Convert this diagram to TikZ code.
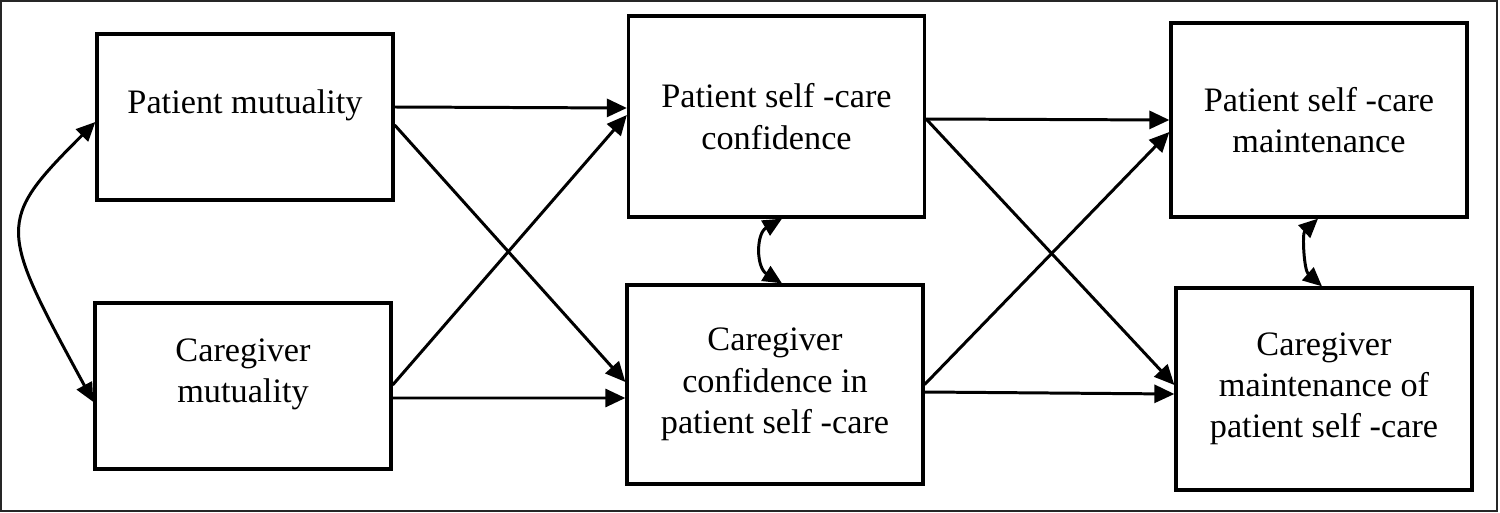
\documentclass[tikz,border=0pt]{standalone}
\usepackage{fontspec}
\setmainfont{Liberation Serif}
\usetikzlibrary{arrows.meta, calc}

\begin{document}
\begin{tikzpicture}[x=0.02cm, y=-0.02cm,
    every node/.style={draw, rectangle, line width=1.9pt, align=center, inner sep=0pt,
      minimum width=5.92cm, font=\fontsize{19.5}{23.5}\selectfont},
    leftbox/.style={text depth=0.62cm},
    effect/.style={line width=1.7pt, -{Triangle[length=0.4cm, width=0.36cm]}},
    corr/.style={line width=1.7pt, {Triangle[length=0.38cm, width=0.34cm]}-{Triangle[length=0.38cm, width=0.34cm]}}]
    \useasboundingbox (0,0) rectangle (1500,513);
    \draw[line width=1.2pt, black!85] (1,1) rectangle (1497,511);

    % mutuality
    \node[leftbox, minimum height=3.32cm] (pmut) at (245,117) {Patient mutuality};
    \node[leftbox, minimum height=3.32cm] (cmut) at (243,386) {Caregiver\\mutuality};

    % confidence
    \node[minimum height=4.02cm] (pconf) at (776.5,116.5) {Patient self -care\\confidence};
    \node[minimum height=3.98cm] (cconf) at (775,384.5) {Caregiver\\confidence in\\patient self -care};

    % maintenance
    \node[minimum height=3.88cm] (pmaint) at (1319,120) {Patient self -care\\maintenance};
    \node[minimum height=4.04cm] (cmaint) at (1324,389) {Caregiver\\maintenance of\\patient self -care};

    \draw[effect] ($(pmut.east)+(0,-10)$) -- ($(pconf.west)+(0,-8.5)$);
    \draw[effect] ($(pmut.east)+(0,8)$) -- ($(cconf.west)+(0,-2.5)$);
    \draw[effect] ($(cmut.east)+(0,-1)$) -- ($(pconf.west)+(0,-1.5)$);
    \draw[effect] ($(cmut.east)+(0,12)$) -- ($(cconf.west)+(0,13.5)$);

    \draw[effect] ($(pconf.east)+(0,2.5)$) -- (pmaint.west);
    \draw[effect] ($(pconf.east)+(0,2.5)$) -- ($(cmaint.west)+(0,-4)$);
    \draw[effect] (cconf.east) -- ($(pmaint.west)+(0,12)$);
    \draw[effect] ($(cconf.east)+(0,7.5)$) -- ($(cmaint.west)+(0,5)$);

    \draw[corr] ($(pmut.west)+(0,5)$) .. controls +(-100,100) and +(-95,-175) .. ($(cmut.west)+(0,16)$);
    \draw[corr] ($(pconf.south)+(5.5,0)$) .. controls +(-26,15) and +(-26,-16) .. ($(cconf.north)+(7,0)$);
    \draw[corr] ($(pmaint.south)+(-1,0)$) .. controls +(-16,15) and +(-18,-16) .. ($(cmaint.north)+(-2,0)$);
\end{tikzpicture}
\end{document}
